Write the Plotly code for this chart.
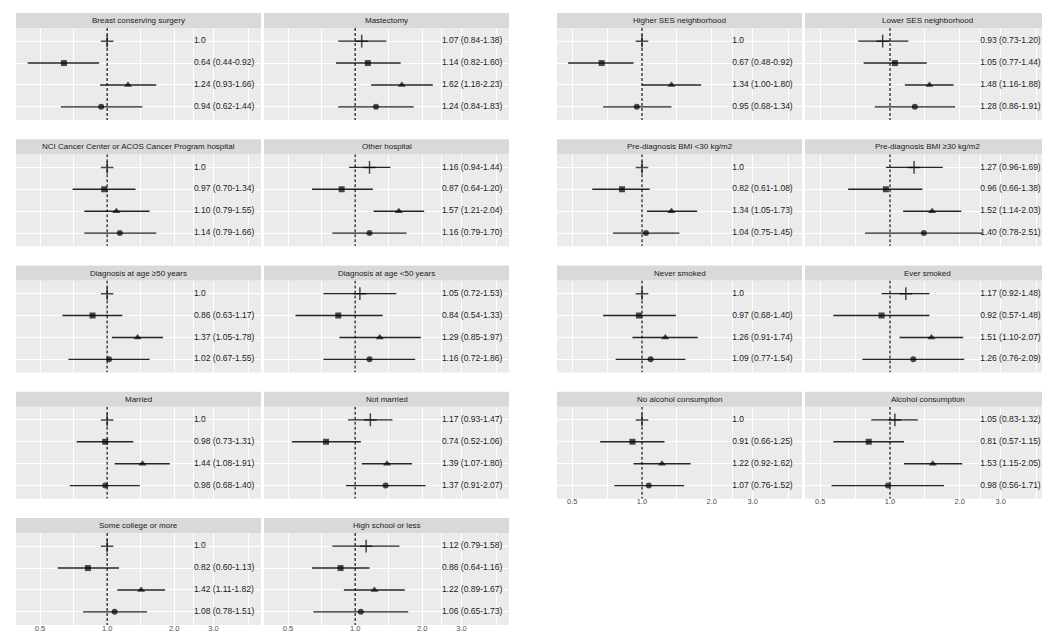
import math
import plotly.graph_objects as go

# titoli dei pannelli (blocco sinistro: 5 righe x 2, blocco destro: 4 righe x 2)
titles_left = [
    "Breast conserving surgery", "Mastectomy",
    "NCI Cancer Center or ACOS Cancer Program hospital", "Other hospital",
    "Diagnosis at age \u226550 years", "Diagnosis at age <50 years",
    "Married", "Not married",
    "Some college or more", "High school or less",
]
titles_right = [
    "Higher SES neighborhood", "Lower SES neighborhood",
    "Pre-diagnosis BMI <30 kg/m2", "Pre-diagnosis BMI \u226530 kg/m2",
    "Never smoked", "Ever smoked",
    "No alcohol consumption", "Alcohol consumption",
]

# HR e intervalli di confidenza, 4 righe per pannello (None = riferimento)
hr_left = [
    [1.0, 0.64, 1.24, 0.94], [1.07, 1.14, 1.62, 1.24],
    [1.0, 0.97, 1.10, 1.14], [1.16, 0.87, 1.57, 1.16],
    [1.0, 0.86, 1.37, 1.02], [1.05, 0.84, 1.29, 1.16],
    [1.0, 0.98, 1.44, 0.98], [1.17, 0.74, 1.39, 1.37],
    [1.0, 0.82, 1.42, 1.08], [1.12, 0.86, 1.22, 1.06],
]
lo_left = [
    [None, 0.44, 0.93, 0.62], [0.84, 0.82, 1.18, 0.84],
    [None, 0.70, 0.79, 0.79], [0.94, 0.64, 1.21, 0.79],
    [None, 0.63, 1.05, 0.67], [0.72, 0.54, 0.85, 0.72],
    [None, 0.73, 1.08, 0.68], [0.93, 0.52, 1.07, 0.91],
    [None, 0.60, 1.11, 0.78], [0.79, 0.64, 0.89, 0.65],
]
hi_left = [
    [None, 0.92, 1.66, 1.44], [1.38, 1.60, 2.23, 1.83],
    [None, 1.34, 1.55, 1.66], [1.44, 1.20, 2.04, 1.70],
    [None, 1.17, 1.78, 1.55], [1.53, 1.33, 1.97, 1.86],
    [None, 1.31, 1.91, 1.40], [1.47, 1.06, 1.80, 2.07],
    [None, 1.13, 1.82, 1.51], [1.58, 1.16, 1.67, 1.73],
]

hr_right = [
    [1.0, 0.67, 1.34, 0.95], [0.93, 1.05, 1.48, 1.28],
    [1.0, 0.82, 1.34, 1.04], [1.27, 0.96, 1.52, 1.40],
    [1.0, 0.97, 1.26, 1.09], [1.17, 0.92, 1.51, 1.26],
    [1.0, 0.91, 1.22, 1.07], [1.05, 0.81, 1.53, 0.98],
]
lo_right = [
    [None, 0.48, 1.00, 0.68], [0.73, 0.77, 1.16, 0.86],
    [None, 0.61, 1.05, 0.75], [0.96, 0.66, 1.14, 0.78],
    [None, 0.68, 0.91, 0.77], [0.92, 0.57, 1.10, 0.76],
    [None, 0.66, 0.92, 0.76], [0.83, 0.57, 1.15, 0.56],
]
hi_right = [
    [None, 0.92, 1.80, 1.34], [1.20, 1.44, 1.88, 1.91],
    [None, 1.08, 1.73, 1.45], [1.69, 1.38, 2.03, 2.51],
    [None, 1.40, 1.74, 1.54], [1.48, 1.48, 2.07, 2.09],
    [None, 1.25, 1.62, 1.52], [1.32, 1.15, 2.05, 1.71],
]

tick_vals = [0.5, 1, 2, 3]
tick_text = ["0.5", "1.0", "2.0", "3.0"]
minor_vals = [0.707, 1.414, 2.449, 4.3]
row_pos = [1, 2, 3, 4]
row_symbols = ["cross-thin", "square", "triangle-up", "circle"]

W, H = 1050, 634
FONT = "Liberation Sans, Arial, sans-serif"


def label(hr, lo, hi):
    if lo is None:
        return "1.0"
    return f"{hr:.2f} ({lo:.2f}-{hi:.2f})"


fig = go.Figure()
layout = {}
shapes = []
annotations = []

# (titoli, hr, lo, hi, colonne in px, righe, range asse x)
blocks = [
    (titles_left, hr_left, lo_left, hi_left, [(8, 253), (256, 501)], 5, (0.39, 4.9)),
    (titles_right, hr_right, lo_right, hi_right, [(549, 794), (797, 1042)], 4, (0.43, 4.9)),
]

n = 0
for titles, hrs, los, his, cols, nrows, xr in blocks:
    for i, title in enumerate(titles):
        n += 1
        row, col = divmod(i, 2)
        x0, x1 = cols[col]
        top = 5 + row * 126.25
        ptop = top + 15
        pbot = ptop + 92
        bottom = row == nrows - 1
        xa, ya = f"x{n}", f"y{n}"
        xkey = "xaxis" if n == 1 else f"xaxis{n}"
        ykey = "yaxis" if n == 1 else f"yaxis{n}"

        # linee degli intervalli di confidenza
        ci_x, ci_y = [], []
        for r, lo, hi in zip(row_pos, los[i], his[i]):
            if lo is None:
                continue
            ci_x += [lo, hi, None]
            ci_y += [r, r, None]
        fig.add_trace(go.Scatter(
            x=ci_x, y=ci_y, mode="lines", xaxis=xa, yaxis=ya,
            line=dict(color="#262626", width=1.4), hoverinfo="skip"))

        # linea tratteggiata a HR = 1
        fig.add_trace(go.Scatter(
            x=[1, 1], y=[0.4, 4.6], mode="lines", xaxis=xa, yaxis=ya,
            line=dict(color="black", width=1.1, dash="3px,2px"), hoverinfo="skip"))

        # punti
        fig.add_trace(go.Scatter(
            x=hrs[i], y=row_pos, mode="markers", xaxis=xa, yaxis=ya,
            marker=dict(symbol=row_symbols, size=[9, 6, 7, 6], color="black",
                        line=dict(color="black", width=[1.5, 0, 0, 0]))))

        # etichette HR (CI)
        fig.add_trace(go.Scatter(
            x=[2.45] * 4, y=row_pos, mode="text", xaxis=xa, yaxis=ya,
            text=[label(h, l, u) for h, l, u in zip(hrs[i], los[i], his[i])],
            textposition="middle right", cliponaxis=False,
            textfont=dict(family=FONT, size=8.5, color="#1A1A1A")))

        layout[xkey] = dict(
            domain=[x0 / W, x1 / W], anchor=ya, type="log",
            range=[math.log10(xr[0]), math.log10(xr[1])],
            tickvals=tick_vals, ticktext=tick_text, showticklabels=bottom,
            ticks="", ticklabelstandoff=-3,
            tickfont=dict(family=FONT, size=7.5, color="#4D4D4D"),
            showgrid=True, gridcolor="white", gridwidth=1,
            minor=dict(tickvals=minor_vals, showgrid=True, gridcolor="white", gridwidth=0.5),
            zeroline=False, showline=False)
        layout[ykey] = dict(
            domain=[1 - pbot / H, 1 - ptop / H], anchor=xa,
            range=[4.6, 0.4], tickvals=row_pos, showticklabels=False, ticks="",
            showgrid=True, gridcolor="white", gridwidth=1,
            zeroline=False, showline=False)

        # striscia grigia col titolo
        shapes.append(dict(type="rect", xref="paper", yref="paper",
                           x0=x0 / W, x1=x1 / W, y0=1 - ptop / H, y1=1 - top / H,
                           fillcolor="#D9D9D9", line=dict(width=0), layer="below"))
        annotations.append(dict(text=title, xref="paper", yref="paper",
                                x=(x0 + x1) / 2 / W, y=1 - (top + 7.5) / H,
                                showarrow=False, xanchor="center", yanchor="middle",
                                font=dict(family=FONT, size=8, color="#1A1A1A")))

fig.update_layout(
    width=W, height=H, margin=dict(l=0, r=0, t=0, b=0),
    showlegend=False, plot_bgcolor="#EBEBEB", paper_bgcolor="white",
    shapes=shapes, annotations=annotations, **layout)

fig.write_html("out.html")
